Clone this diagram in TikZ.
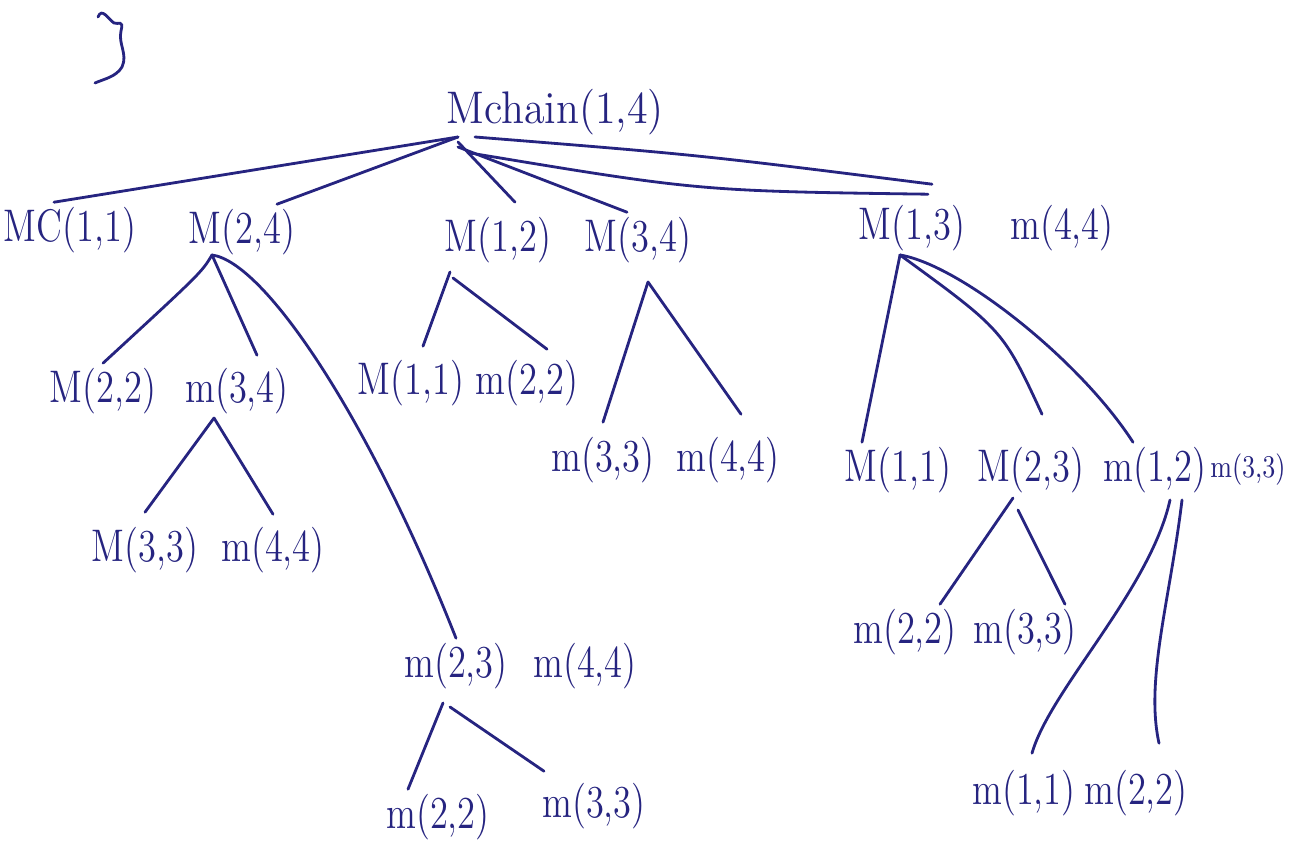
\documentclass[tikz,border=0pt]{standalone}
\usepackage{graphicx}
\usepackage{tikz}
\definecolor{ink}{RGB}{38,36,128}
\newcommand{\hw}[1]{\scalebox{0.8}[1]{#1}}

\begin{document}
\begin{tikzpicture}[line width=0.8pt, color=ink, line cap=round,
  every node/.style={inner sep=1pt, font=\fontsize{13}{15}\selectfont}]
\useasboundingbox (0,0) rectangle (13.05,8.49);

% Scribble top left
\draw (0.98,8.32) .. controls (1.02,8.42) and (1.08,8.30) .. (1.14,8.26)
  .. controls (1.18,8.24) and (1.24,8.30) .. (1.21,8.18)
  .. controls (1.18,8.05) and (1.28,7.95) .. (1.22,7.82)
  .. controls (1.16,7.72) and (1.04,7.70) .. (0.95,7.66);

% Root
\node (root) at (5.55,7.37) {\scalebox{0.92}[1]{Mchain(1,4)}};

% First level
\node (mcA) at (0.70,6.19) {\hw{MC(1,1)}};
\node (mB) at (2.42,6.17) {\hw{M(2,4)}};
\node (mC) at (4.98,6.09) {\hw{M(1,2)}};
\node (mD) at (6.38,6.09) {\hw{M(3,4)}};
\node (mE) at (9.12,6.21) {\hw{M(1,3)}};
\node (mF) at (10.62,6.21) {\hw{m(4,4)}};

% Second level
\node (nA22) at (1.03,4.58) {\hw{M(2,2)}};
\node (nA34) at (2.37,4.58) {\hw{m(3,4)}};
\node (nB11) at (4.11,4.66) {\hw{M(1,1)}};
\node (nB22) at (5.27,4.66) {\hw{m(2,2)}};
\node (nC33) at (6.03,3.89) {\hw{m(3,3)}};
\node (nC44) at (7.28,3.89) {\hw{m(4,4)}};
\node (nD11) at (8.98,3.79) {\hw{M(1,1)}};
\node (nD23) at (10.31,3.79) {\hw{M(2,3)}};
\node (nD12) at (11.55,3.79) {\hw{m(1,2)}};
\node[font=\fontsize{9}{11}\selectfont] (nD33) at (12.48,3.79) {\hw{m(3,3)}};

% Third level
\node (nE33) at (1.45,2.99) {\hw{M(3,3)}};
\node (nE44) at (2.73,2.99) {\hw{m(4,4)}};
\node (nF23) at (4.56,1.83) {\hw{m(2,3)}};
\node (nF44) at (5.85,1.83) {\hw{m(4,4)}};
\node (nG22) at (9.05,2.17) {\hw{m(2,2)}};
\node (nG33) at (10.25,2.17) {\hw{m(3,3)}};

% Fourth level
\node (nH22) at (4.38,0.32) {\hw{m(2,2)}};
\node (nH33) at (5.94,0.43) {\hw{m(3,3)}};
\node (nI11) at (10.24,0.56) {\hw{m(1,1)}};
\node (nI22) at (11.36,0.56) {\hw{m(2,2)}};

% Junction points
\coordinate (jroot) at (4.58,7.12);
\coordinate (jB) at (2.12,5.94);
\coordinate (jC) at (4.50,5.77);
\coordinate (jD) at (6.48,5.67);
\coordinate (jE) at (9.00,5.94);
\coordinate (j34) at (2.14,4.31);
\coordinate (jG) at (10.13,3.51);
\coordinate (jI) at (11.70,3.49);
\coordinate (jH) at (4.43,1.46);

% Root edges
\draw (jroot) -- ([xshift=-1.6mm]mcA.north);
\draw (jroot) -- ([xshift=3.5mm]mB.north);
\draw ([yshift=-0.5mm]jroot) -- ([xshift=1.7mm,yshift=1mm]mC.north);
\draw ([yshift=-1mm]jroot) -- ([xshift=-1.1mm]mD.north);
\draw ([xshift=1.7mm]jroot) .. controls (7.00,6.94) .. ([xshift=2mm,yshift=1.6mm]mE.north);
\draw ([xshift=1.2mm,yshift=-1.6mm]jroot) .. controls (6.99,6.58) .. ([xshift=1.6mm,yshift=0.6mm]mE.north);

% M(2,4) edges
\draw (jB) .. controls (2.015,5.765) .. (nA22.north);
\draw (jB) -- ([xshift=2mm,yshift=0.8mm]nA34.north);
\draw (jB) .. controls (2.65,5.87) and (3.70,4.29) .. (nF23.north);

% m(3,4) edges
\draw (j34) -- ([yshift=1mm]nE33.north);
\draw (j34) -- ([yshift=0.8mm]nE44.north);

% M(1,2) edges
\draw (jC) -- ([xshift=1.2mm,yshift=0.9mm]nB11.north);
\draw ([xshift=0.3mm,yshift=-0.6mm]jC) -- ([xshift=2mm,yshift=0.6mm]nB22.north);

% M(3,4) edges
\draw (jD) -- ([yshift=1mm]nC33.north);
\draw (jD) -- ([xshift=1.3mm,yshift=1.8mm]nC44.north);

% M(1,3) edges
\draw (jE) -- ([xshift=-3.6mm]nD11.north);
\draw (jE) .. controls (10.03,5.19) .. ([xshift=1.1mm,yshift=2.8mm]nD23.north);
\draw (jE) .. controls (9.60,5.84) and (10.80,4.89) .. ([xshift=-2.2mm]nD12.north);

% M(2,3) edges
\draw (jG) -- ([xshift=3.5mm]nG22.north);
\draw ([xshift=0.5mm,yshift=-1.2mm]jG) -- ([xshift=4mm]nG33.north);

% m(1,2) edges
\draw (jI) .. controls (11.50,2.59) and (10.50,1.59) .. ([xshift=0.8mm,yshift=1.2mm]nI11.north);
\draw ([xshift=1.2mm]jI) .. controls (11.70,2.49) and (11.45,1.69) .. ([xshift=2.3mm,yshift=2.2mm]nI22.north);

% m(2,3) edges
\draw (jH) -- ([xshift=-3mm]nH22.north);
\draw ([xshift=0.7mm,yshift=-0.4mm]jH) -- ([xshift=-5mm,yshift=0.7mm]nH33.north);

\end{tikzpicture}
\end{document}
